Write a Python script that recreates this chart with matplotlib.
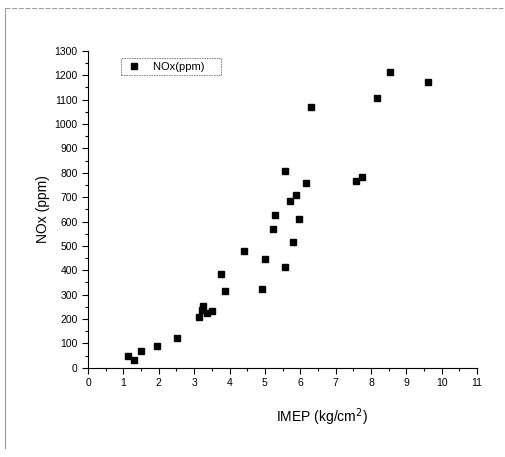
import matplotlib.pyplot as plt
from matplotlib.ticker import MultipleLocator
from matplotlib.lines import Line2D

plt.rcParams['font.family'] = ['Liberation Sans', 'DejaVu Sans']

imep = [1.14, 1.30, 1.50, 1.94, 2.51, 3.15, 3.21, 3.26, 3.35, 3.51,
        3.75, 3.86, 4.40, 4.92, 5.00, 5.24, 5.29, 5.58, 5.78, 5.95,
        5.70, 5.88, 6.17, 5.56, 6.30, 7.57, 7.75, 8.16, 8.55, 9.60]
nox = [49, 33, 70, 91, 124, 210, 238, 254, 227, 234,
       384, 316, 479, 322, 447, 570, 628, 414, 514, 612,
       684, 708, 759, 807, 1068, 764, 783, 1107, 1213, 1171]

fig = plt.figure(figsize=(5.06, 4.57), dpi=100)
ax = fig.add_axes([0.174, 0.195, 0.769, 0.694])

ax.plot(imep, nox, 's', color='black', ms=5, label='NOx(ppm)')

ax.set_xlim(0, 11)
ax.set_ylim(0, 1300)
ax.xaxis.set_major_locator(MultipleLocator(1))
ax.xaxis.set_minor_locator(MultipleLocator(0.5))
ax.yaxis.set_major_locator(MultipleLocator(100))
ax.yaxis.set_minor_locator(MultipleLocator(50))
ax.tick_params(which='major', length=4, width=0.8, labelsize=7.5, direction='out')
ax.tick_params(which='minor', length=2, width=0.8, direction='out')
for s in ['top', 'right']:
    ax.spines[s].set_visible(False)

ax.set_ylabel('NOx (ppm)', fontsize=10, labelpad=3)
ax.set_xlabel('IMEP (kg/cm$^2$)', fontsize=10)
ax.xaxis.set_label_coords(0.6, -0.12)

leg = ax.legend(loc='upper left', bbox_to_anchor=(0.085, 0.978), fontsize=8,
                frameon=True, fancybox=False, handlelength=1.6, handletextpad=0.9,
                borderpad=0.35, borderaxespad=0, markerscale=1.0)
leg.get_texts()[0].set_text('NOx(ppm)    ')
leg.get_frame().set_edgecolor('#555555')
leg.get_frame().set_linestyle((0, (2, 1)))
leg.get_frame().set_linewidth(0.6)

# scanned page border
fig.add_artist(Line2D([0.01, 0.995], [0.982, 0.982], color='#888888', lw=0.6, ls=(0, (6, 2))))
fig.add_artist(Line2D([0.01, 0.01], [0.982, 0.02], color='#999999', lw=0.8))

fig.savefig('out.png', dpi=100)
